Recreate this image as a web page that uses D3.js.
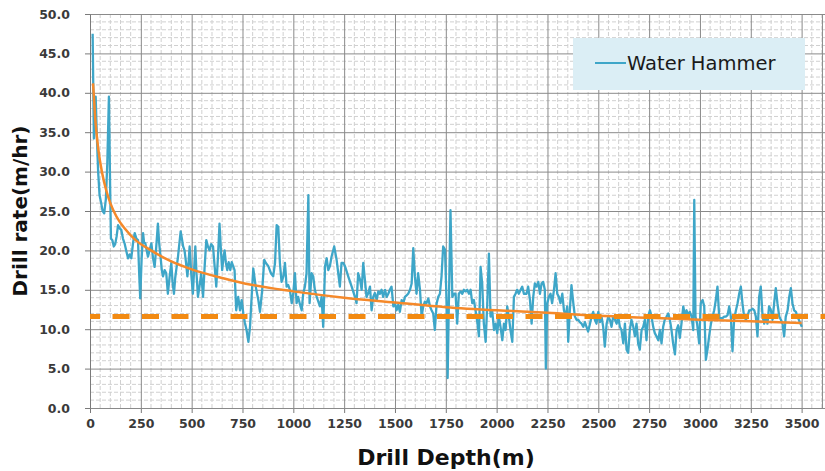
<!DOCTYPE html>
<html>
<head>
<meta charset="utf-8">
<script src="https://cdn.jsdelivr.net/npm/d3@7"></script>
<style>
  body { margin: 0; background: #fff; }
  svg { display: block; }
</style>
</head>
<body>
<div id="chart"></div>
<script>
// ---------- data: [depth (m), drill rate (m/hr)]
const rateSeg1 = [[13,47.5],[19,34.2],[28,39.5],[33,35],[40,30],[47,27],[55,26],[62,25],[70,24.7],[78,26.5],[85,31],[93,39.5],[99,28],[103,21.5],[110,21.3],[117,20.5],[124,20.8],[131,21.8],[138,23.2],[146,22.8],[154,22.6],[162,21.5],[170,20.9],[178,20],[187,19.0],[195,19.5],[203,19.0],[212,21],[220,22.2],[228,21.5],[236,21.3],[242,17],[247,13.9],[254,19],[261,22.2],[266,21],[272,20.9],[279,20],[285,19.2],[293,20],[302,20.9],[310,19],[318,17.9],[326,20.5],[334,23.4],[340,21],[347,19.2],[353,17.5],[359,16.7],[367,17.5],[375,17.1],[383,14.5],[391,16.5],[400,18.4],[406,16],[413,14.5],[419,16.5],[424,17.5],[432,19],[440,21],[446,22.4],[452,21.5],[458,20.5],[465,20.0],[472,18.5],[479,16.7],[485,18.5],[490,20.5],[498,17],[506,14.5],[512,17.5],[518,20.5],[524,17],[531,14.1],[539,15.5],[547,17.1],[552,15.5],[556,14.1],[564,18],[572,21.3],[580,20.5],[588,20.0],[596,20.8],[605,20.5],[613,18],[621,15.4],[629,19],[637,23.4],[644,20],[650,17.5],[656,19],[662,20.0],[668,18.5],[675,17.5],[682,18.5],[690,17.5],[697,18.5],[704,18.0],[711,17.5],[719,12.4]]
const rateSeg2 = [[729,14.1],[738,12.4],[746,13.7],[754,12.0],[762,10.8],[770,9.9],[779,8.4],[787,10.3],[795,14.1],[803,17.7],[815,15.4],[828,13.7],[836,12.2],[847,15.0],[857,18.8],[865,18.4],[877,18.0],[890,17.1],[901,16.7],[910,18.4],[918,23.2],[926,23.0],[934,18.4],[942,16.0],[951,16.7],[959,18.4],[967,15.4],[975,15.6],[983,15.0],[992,13.3],[1000,14.6],[1008,17.1],[1016,13.3],[1024,14.1],[1033,13.1],[1041,12.4],[1049,14.6],[1057,15.4],[1065,17.1],[1074,27.0],[1080,13.3],[1090,17.1],[1098,16.7],[1106,15.0],[1115,14.1],[1131,12.9],[1139,14.1],[1147,10.3],[1156,18.0],[1164,19.0],[1172,17.5],[1180,18.0],[1188,19.2],[1201,20.5],[1213,18.8],[1221,17.1],[1229,15.4],[1237,18.4],[1246,18.4],[1254,18.0],[1270,16.7],[1287,15.4],[1303,14.1],[1311,13.3],[1319,17.1],[1328,16.3],[1336,15.0],[1344,18.4],[1352,16.3],[1360,14.1],[1369,14.6],[1377,15.4],[1385,12.4],[1393,14.1],[1401,14.6],[1410,13.7],[1418,14.8]]
const rateSeg3 = [[1426,14.5],[1434,15.0],[1442,14.1],[1451,15.0],[1459,14.1],[1467,14.5],[1475,15.0],[1483,15.4],[1492,12.9],[1500,13.3],[1508,12.4],[1516,13.1],[1524,12.2],[1533,13.7],[1541,13.3],[1549,14.1],[1557,14.3],[1565,14.5],[1574,15.0],[1582,15.8],[1590,20.3],[1598,16.7],[1606,14.5],[1614,17.1],[1623,15.0],[1631,11.6],[1639,12.9],[1647,13.5],[1655,13.3],[1664,13.9],[1672,12.9],[1680,12.4],[1688,12.0],[1696,9.9],[1705,13.3],[1713,14.1],[1721,14.5],[1729,16.7],[1737,20.5],[1746,20.1],[1754,13.3],[1759,3.8],[1765,13.3],[1773,25.1],[1782,14.1],[1790,14.5],[1798,14.5],[1806,10.7],[1814,14.5],[1823,14.8],[1831,14.5],[1839,15.0],[1847,14.8],[1855,15.0],[1864,14.5],[1872,15.0],[1880,13.3],[1888,13.7],[1896,12.4],[1905,10.9],[1913,9.1],[1921,17.9],[1929,15.8],[1937,10.7],[1946,8.4],[1954,13.3],[1962,19.6],[1970,11.6],[1978,12.4],[1987,9.9],[1995,10.7],[2003,9.5],[2011,11.6],[2019,10.3],[2028,8.6],[2036,10.7],[2044,9.9],[2052,12.9],[2060,11.6],[2068,9.9],[2077,8.4],[2085,14.1],[2093,14.5],[2101,15.0],[2109,14.5],[2118,15.0],[2126,15.4],[2134,14.5]]
const rateSeg4 = [[2147,14.5],[2155,15.4],[2164,13.7],[2172,10.7],[2180,14.1],[2188,15.8],[2196,15.4],[2205,16.0],[2213,14.5],[2221,15.8],[2229,16.0],[2237,15.0],[2242,5.0],[2249,13.3],[2257,14.1],[2265,14.5],[2273,13.3],[2282,15.0],[2290,17.1],[2298,14.5],[2306,14.1],[2314,13.3],[2323,14.5],[2331,12.4],[2339,11.6],[2347,12.9],[2352,8.4],[2360,12.4],[2368,15.6],[2377,13.3],[2385,11.6],[2393,11.2],[2401,11.2],[2409,10.9],[2418,10.7],[2426,10.3],[2434,10.9],[2442,10.3],[2450,9.7],[2459,10.7],[2467,11.6],[2475,12.2],[2483,11.2],[2491,10.7],[2500,12.2],[2508,10.9],[2516,11.6],[2524,10.3],[2532,7.8],[2541,10.7],[2549,11.6],[2557,11.2],[2565,10.3],[2573,11.6],[2582,11.2],[2590,10.7],[2598,11.6],[2606,10.3],[2614,9.9],[2623,8.2],[2631,10.7],[2639,7.4],[2647,7.0],[2655,9.9],[2663,11.2],[2672,10.3],[2680,9.1],[2688,10.7],[2696,8.2],[2704,7.4],[2713,9.9],[2721,10.3],[2729,11.2],[2737,8.6],[2745,11.6],[2754,12.4],[2762,11.6],[2770,10.3],[2778,9.5],[2786,9.1],[2795,8.6],[2803,9.9],[2811,8.2],[2819,10.3],[2827,11.2],[2836,11.6],[2844,12.0]]
const rateSeg5 = [[2852,11.2],[2860,9.9],[2868,8.2],[2877,6.8],[2885,9.9],[2893,10.5],[2901,8.9],[2909,10.7],[2918,12.9],[2926,11.8],[2934,12.4],[2942,11.8],[2950,12.2],[2959,11.6],[2967,9.9],[2972,26.4],[2978,11.6],[2986,10.7],[2996,8.2],[3004,13.3],[3013,13.7],[3021,12.9],[3029,6.1],[3037,7.4],[3045,9.1],[3054,10.7],[3062,11.6],[3070,12.4],[3078,13.7],[3086,15.4],[3095,11.4],[3103,11.4],[3111,11.4],[3119,11.6],[3127,11.6],[3136,11.8],[3144,12.9],[3152,11.6],[3160,7.2],[3168,11.2],[3177,12.4],[3185,13.3],[3193,14.5],[3201,15.4],[3209,13.3],[3217,11.6],[3226,11.2],[3234,11.6],[3242,12.4],[3250,12.4],[3258,12.6],[3267,12.4],[3275,11.6],[3283,9.1],[3291,14.1],[3299,15.4],[3308,11.6],[3316,10.7],[3324,11.6],[3332,10.7],[3340,12.9],[3349,12.4],[3357,11.2],[3365,13.3],[3373,15.2],[3381,13.3],[3390,11.6],[3398,11.2],[3406,10.7],[3414,9.1],[3422,11.6],[3431,12.4],[3439,14.1],[3447,15.2],[3455,13.3],[3463,12.4],[3472,12.2],[3480,11.6],[3491,10.9],[3501,10.3]]

// orange trend curve, read at several depths
const trendPoints = [[15,41.2],[25,37],[40,33],[60,29.8],[80,27.6],[100,26],[130,24.3],[170,22.8],[220,21.4],[300,20],[400,18.6],[500,17.6],[650,16.5],[800,15.6],[1000,14.8],[1250,14],[1500,13.4],[1750,12.8],[2000,12.4],[2250,12.1],[2500,11.7],[2750,11.45],[3000,11.2],[3250,11],[3500,10.8]]

const baselineRate = 11.6
const xTicks = [0,250,500,750,1000,1250,1500,1750,2000,2250,2500,2750,3000,3250,3500]
const yTicks = [0,5,10,15,20,25,30,35,40,45,50]
const seriesName = "Water Hammer"

//------------------ dimensions
const dims = {
  width: 825,
  height: 471,
  left: 90,
  right: 825,
  top: 14,
  bottom: 408
}

const rateSeries = [].concat(rateSeg1, rateSeg2, rateSeg3, rateSeg4, rateSeg5)

const svg = d3.select("#chart").append("svg")
  .attr("width", dims.width)
  .attr("height", dims.height)

//------------------ scales
const xScale = d3.scaleLinear()
  .domain([0, 3615])
  .range([dims.left, dims.right])

const yScale = d3.scaleLinear()
  .domain([0, 50])
  .range([dims.bottom, dims.top])

//------------------ grid
const grid = svg.append("g")

const minorX = d3.range(50, 3601, 50).filter(d => d % 250 !== 0)
const minorY = d3.range(1, 50, 1).filter(d => d % 5 !== 0)

grid.selectAll(".minor-x")
  .data(minorX)
  .join("line")
  .attr("x1", d => xScale(d)).attr("x2", d => xScale(d))
  .attr("y1", yScale(0)).attr("y2", yScale(50))
  .attr("stroke", "#d0d0d0")
  .attr("stroke-width", 1)
  .attr("stroke-dasharray", "4,2")

grid.selectAll(".minor-y")
  .data(minorY)
  .join("line")
  .attr("x1", xScale(0)).attr("x2", dims.right)
  .attr("y1", d => yScale(d)).attr("y2", d => yScale(d))
  .attr("stroke", "#d0d0d0")
  .attr("stroke-width", 1)
  .attr("stroke-dasharray", "4,2")

const xAxis = svg.append("g")
  .attr("transform", `translate(0,${dims.bottom})`)
  .call(d3.axisBottom(xScale).tickValues(xTicks.concat([3600])).tickSize(-(dims.bottom - dims.top) ).tickSizeOuter(0).tickFormat(""))
xAxis.select(".domain").remove()
xAxis.selectAll("line").attr("stroke", "#8a8a8a")

const xLabels = svg.append("g")
  .attr("transform", `translate(0,${dims.bottom})`)
  .call(d3.axisBottom(xScale).tickValues(xTicks).tickSize(5).tickSizeOuter(0).tickPadding(6).tickFormat(d3.format("d")))
xLabels.select(".domain").attr("stroke", "#7a7a7a")
xLabels.selectAll("line").attr("stroke", "#7a7a7a")
xLabels.selectAll("text")
  .attr("font-family", "DejaVu Sans, sans-serif")
  .attr("font-weight", "bold")
  .attr("font-size", 12.5)
  .attr("fill", "#3a3a3a")

const yAxis = svg.append("g")
  .attr("transform", `translate(${dims.left},0)`)
  .call(d3.axisLeft(yScale).tickValues(yTicks).tickSize(-(dims.right - dims.left)).tickSizeOuter(0).tickFormat(""))
yAxis.select(".domain").remove()
yAxis.selectAll("line").attr("stroke", "#8a8a8a")

const yLabels = svg.append("g")
  .attr("transform", `translate(${dims.left},0)`)
  .call(d3.axisLeft(yScale).tickValues(yTicks).tickSize(5).tickSizeOuter(0).tickPadding(15).tickFormat(d3.format(".1f")))
yLabels.select(".domain").attr("stroke", "#7a7a7a")
yLabels.selectAll("line").attr("stroke", "#7a7a7a")
yLabels.selectAll("text")
  .attr("font-family", "DejaVu Sans, sans-serif")
  .attr("font-weight", "bold")
  .attr("font-size", 12.5)
  .attr("fill", "#3a3a3a")

//------------------ series
const lineGen = d3.line()
  .x(d => xScale(d[0]))
  .y(d => yScale(d[1]))

svg.append("path")
  .datum(rateSeries)
  .attr("d", lineGen)
  .attr("fill", "none")
  .attr("stroke", "#3ea6c8")
  .attr("stroke-width", 2.3)
  .attr("stroke-linejoin", "round")

svg.append("path")
  .datum(trendPoints)
  .attr("d", lineGen.curve(d3.curveMonotoneX))
  .attr("fill", "none")
  .attr("stroke", "#f5892a")
  .attr("stroke-width", 2.5)

svg.append("line")
  .attr("x1", xScale(0)).attr("x2", dims.right)
  .attr("y1", yScale(baselineRate)).attr("y2", yScale(baselineRate))
  .attr("stroke", "#f28a12")
  .attr("stroke-width", 5)
  .attr("stroke-dasharray", "17,12.5")
  .attr("stroke-dashoffset", 7)

//------------------ legend
const legend = svg.append("g").attr("transform", "translate(573,38)")
legend.append("rect")
  .attr("width", 232).attr("height", 52)
  .attr("fill", "#dbeef5")
legend.append("line")
  .attr("x1", 22).attr("x2", 53).attr("y1", 25).attr("y2", 25)
  .attr("stroke", "#3ea6c8").attr("stroke-width", 2)
legend.append("text")
  .attr("x", 54).attr("y", 32)
  .attr("font-family", "DejaVu Sans, sans-serif")
  .attr("font-size", 19.5)
  .attr("fill", "#1a1a1a")
  .text(seriesName)

//------------------ axis titles
svg.append("text")
  .attr("transform", `translate(27,${(dims.top + dims.bottom) / 2}) rotate(-90)`)
  .attr("text-anchor", "middle")
  .attr("font-family", "DejaVu Sans, sans-serif")
  .attr("font-weight", "bold")
  .attr("font-size", 20)
  .attr("fill", "#111")
  .text("Drill rate(m/hr)")

svg.append("text")
  .attr("x", 446).attr("y", 465)
  .attr("text-anchor", "middle")
  .attr("font-family", "DejaVu Sans, sans-serif")
  .attr("font-weight", "bold")
  .attr("font-size", 22)
  .attr("fill", "#111")
  .text("Drill Depth(m)")
</script>
</body>
</html>
